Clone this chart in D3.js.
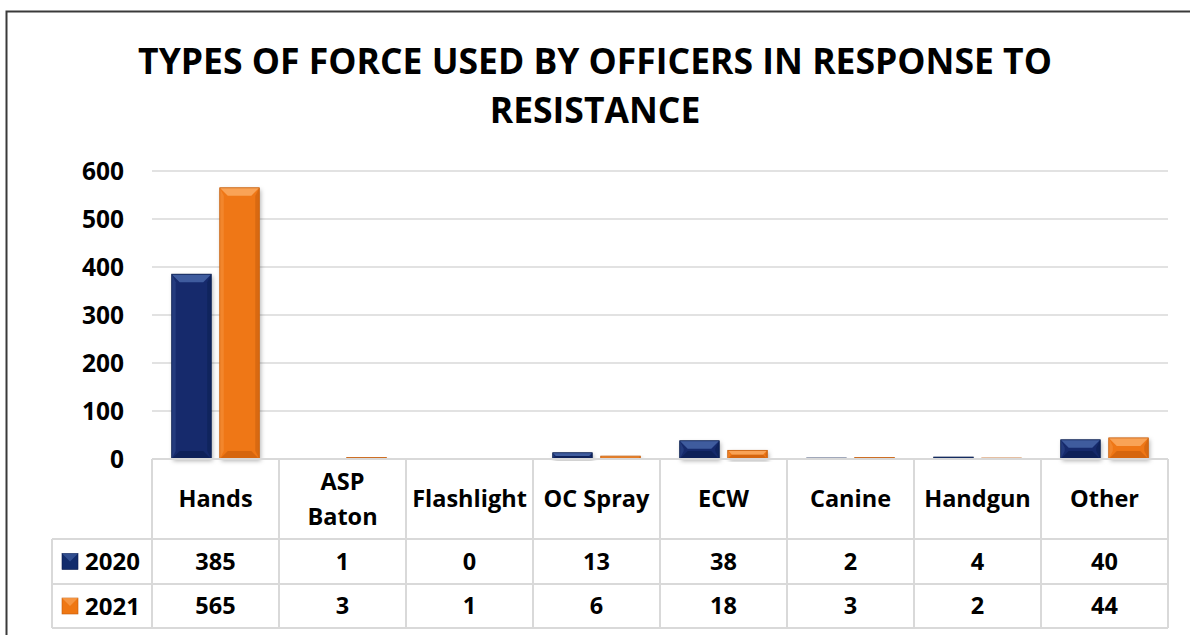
<!DOCTYPE html>
<html>
<head>
<meta charset="utf-8">
<script src="https://cdn.jsdelivr.net/npm/d3@7"></script>
<style>
  html, body { margin: 0; padding: 0; background: #ffffff; overflow: hidden; }
  svg { display: block; }
  text { font-family: "Open Sans", "DejaVu Sans", sans-serif; font-weight: bold; fill: #000; }
</style>
</head>
<body>
<div id="chart"></div>
<script>
// chart values
const categories = ["Hands", "ASP\nBaton", "Flashlight", "OC Spray", "ECW", "Canine", "Handgun", "Other"];
const years = ["2020", "2021"];
const values2020 = [385, 1, 0, 13, 38, 2, 4, 40];
const values2021 = [565, 3, 1, 6, 18, 3, 2, 44];
const yTicks = [0, 100, 200, 300, 400, 500, 600];
const titleLines = ["TYPES OF FORCE USED BY OFFICERS IN RESPONSE TO", "RESISTANCE"];

document.addEventListener('DOMContentLoaded', function () {
    const width = 1190;
    const height = 635;

    const svg = d3.select("#chart")
        .append("svg")
        .attr("width", width)
        .attr("height", height);

    const colors = { "2020": "#122c6c", "2021": "#ef7713" };
    const light = { "2020": "#3f5c9e", "2021": "#f9a356" };
    const dark = { "2020": "#0a1d4d", "2021": "#c45c0b" };

    // drop shadow for bars
    const defs = svg.append("defs");
    const shadow = defs.append("filter").attr("id", "shadow")
        .attr("x", "-30%").attr("y", "-30%").attr("width", "160%").attr("height", "160%");
    shadow.append("feDropShadow")
        .attr("dx", 1.5).attr("dy", 2).attr("stdDeviation", 2)
        .attr("flood-color", "#000").attr("flood-opacity", 0.3);

    // outer frame: only the top and left edges are in the picture
    svg.append("path")
        .attr("d", `M6.5,${height} V11.5 H${width}`)
        .attr("fill", "none")
        .attr("stroke", "#3a3a3a")
        .attr("stroke-width", 2);

    // title
    svg.selectAll(".title")
        .data(titleLines)
        .join("text")
        .attr("class", "title")
        .attr("x", 595)
        .attr("y", (d, i) => 74 + i * 49)
        .attr("text-anchor", "middle")
        .style("font-size", "35.5px")
        .text(d => d);

    const plotLeft = 152, plotRight = 1168;
    const x = d3.scaleBand().domain(categories).range([plotLeft, plotRight]);
    const xInner = d3.scaleBand().domain(years).range([0, x.bandwidth()])
        .paddingInner(0.177).paddingOuter(0.41);
    const y = d3.scaleLinear().domain([0, 600]).range([459, 171]);

    // gridlines
    svg.append("g")
        .selectAll("line")
        .data(yTicks.filter(d => d > 0))
        .join("line")
        .attr("x1", plotLeft).attr("x2", plotRight)
        .attr("y1", d => y(d)).attr("y2", d => y(d))
        .attr("stroke", "#d9d9d9")
        .attr("stroke-width", 1.5);

    // y axis labels
    const yAxis = d3.axisLeft(y).tickValues(yTicks).tickSize(0).tickPadding(0);
    const yg = svg.append("g")
        .attr("transform", "translate(124,0)")
        .call(yAxis);
    yg.select(".domain").remove();
    yg.selectAll("text")
        .style("font-size", "24.5px")
        .attr("dy", "0.36em");

    // bars with a simple bevel
    const series = years.map((yr, si) => ({
        year: yr,
        values: (si === 0 ? values2020 : values2021)
    }));

    const barData = [];
    series.forEach(s => {
        s.values.forEach((v, i) => {
            barData.push({ year: s.year, category: categories[i], value: v });
        });
    });

    const bars = svg.append("g").selectAll("g")
        .data(barData.filter(d => d.value > 0))
        .join("g");

    bars.each(function (d) {
        const g = d3.select(this);
        const bx = x(d.category) + xInner(d.year);
        const bw = xInner.bandwidth();
        const by = y(d.value);
        const bh = y(0) - by;
        const b = Math.min(8, bh / 2, bw / 4);

        g.append("rect")
            .attr("x", bx).attr("y", by)
            .attr("width", bw).attr("height", Math.max(bh, 1))
            .attr("fill", colors[d.year])
            .attr("filter", "url(#shadow)");

        if (bh > 2) {
            const pts = (arr) => arr.map(p => p.join(",")).join(" ");
            // top
            g.append("polygon")
                .attr("points", pts([[bx, by], [bx + bw, by], [bx + bw - b, by + b], [bx + b, by + b]]))
                .attr("fill", light[d.year]);
            // bottom
            g.append("polygon")
                .attr("points", pts([[bx, by + bh], [bx + bw, by + bh], [bx + bw - b, by + bh - b], [bx + b, by + bh - b]]))
                .attr("fill", dark[d.year]).attr("opacity", 0.6);
            // right side
            g.append("polygon")
                .attr("points", pts([[bx + bw, by], [bx + bw, by + bh], [bx + bw - b / 2, by + bh - b], [bx + bw - b / 2, by + b]]))
                .attr("fill", dark[d.year]).attr("opacity", 0.5);
            // left side
            g.append("polygon")
                .attr("points", pts([[bx, by], [bx, by + bh], [bx + b / 2, by + bh - b], [bx + b / 2, by + b]]))
                .attr("fill", light[d.year]).attr("opacity", 0.35);
        }
        g.append("rect")
            .attr("x", bx).attr("y", by)
            .attr("width", bw).attr("height", Math.max(bh, 1))
            .attr("fill", "none")
            .attr("stroke", dark[d.year])
            .attr("stroke-width", 0.8);
    });

    // data table under the plot
    const tableTop = 459, headerBottom = 539, row1Bottom = 584, row2Bottom = 628;
    const legendLeft = 52;
    const gridColor = "#d9d9d9";
    const table = svg.append("g");

    table.append("line")
        .attr("x1", plotLeft).attr("x2", plotRight)
        .attr("y1", tableTop).attr("y2", tableTop)
        .attr("stroke", gridColor).attr("stroke-width", 2);
    [headerBottom, row1Bottom, row2Bottom].forEach(yy => {
        table.append("line")
            .attr("x1", legendLeft).attr("x2", plotRight)
            .attr("y1", yy).attr("y2", yy)
            .attr("stroke", gridColor).attr("stroke-width", 2);
    });
    table.selectAll(".vline")
        .data(d3.range(categories.length + 1))
        .join("line")
        .attr("class", "vline")
        .attr("x1", i => plotLeft + i * x.step())
        .attr("x2", i => plotLeft + i * x.step())
        .attr("y1", tableTop).attr("y2", row2Bottom)
        .attr("stroke", gridColor).attr("stroke-width", 2);
    table.append("line")
        .attr("x1", legendLeft).attr("x2", legendLeft)
        .attr("y1", headerBottom).attr("y2", row2Bottom)
        .attr("stroke", gridColor).attr("stroke-width", 2);

    const cellFont = "23.5px";

    // header labels
    table.selectAll(".cat")
        .data(categories)
        .join("text")
        .attr("class", "cat")
        .attr("text-anchor", "middle")
        .style("font-size", cellFont)
        .each(function (d) {
            const lines = d.split("\n");
            const cx = x(d) + x.bandwidth() / 2;
            const cy = (tableTop + headerBottom) / 2;
            const lh = 35;
            d3.select(this).selectAll("tspan")
                .data(lines)
                .join("tspan")
                .attr("x", cx)
                .attr("y", (l, i) => cy + (i - (lines.length - 1) / 2) * lh)
                .attr("dy", "0.36em")
                .text(l => l);
        });

    // value rows
    const rowCenters = [(headerBottom + row1Bottom) / 2, (row1Bottom + row2Bottom) / 2];
    series.forEach((s, si) => {
        table.selectAll(".val" + si)
            .data(s.values)
            .join("text")
            .attr("class", "val" + si)
            .attr("x", (v, i) => x(categories[i]) + x.bandwidth() / 2)
            .attr("y", rowCenters[si])
            .attr("dy", "0.36em")
            .attr("text-anchor", "middle")
            .style("font-size", cellFont)
            .text(v => v);

        // legend key
        const kx = 62, ky = rowCenters[si] - 8, ks = 16;
        table.append("rect")
            .attr("x", kx).attr("y", ky).attr("width", ks).attr("height", ks)
            .attr("fill", colors[s.year])
            .attr("stroke", dark[s.year]).attr("stroke-width", 0.6);
        table.append("polygon")
            .attr("points", `${kx},${ky} ${kx + ks},${ky} ${kx + ks / 2},${ky + ks / 2}`)
            .attr("fill", light[s.year]).attr("opacity", 0.7);
        table.append("text")
            .attr("x", 85)
            .attr("y", rowCenters[si])
            .attr("dy", "0.36em")
            .style("font-size", "24px")
            .text(s.year);
    });
});
</script>
</body>
</html>
